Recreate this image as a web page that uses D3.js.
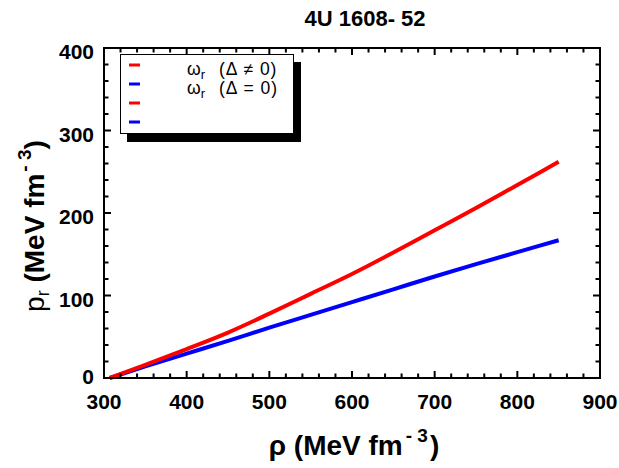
<!DOCTYPE html>
<html>
<head>
<meta charset="utf-8">
<script src="https://cdn.jsdelivr.net/npm/d3@7"></script>
<style>
  body { margin: 0; background: #fff; }
  text { font-family: "Liberation Sans", Arial, sans-serif; fill: #000; }
</style>
</head>
<body>
<div id="chart"></div>
<script>
        // Data
        const rho = [307, 350, 400, 450, 500, 550, 600, 650, 700, 750, 800, 850];
        const prDelta = [0, 16, 35, 55, 78, 102, 126, 152, 179, 206, 234, 262];
        const prNoDelta = [0, 14, 29.5, 45, 61, 76.5, 92, 107.5, 123, 138, 152.5, 167];
        const xTicks = [300, 400, 500, 600, 700, 800, 900];
        const yTicks = [0, 100, 200, 300, 400];
        const legendLabels = ["\u03c9", "\u03c9", "", ""];
        const legendSubs = ["(\u0394 \u2260 0)", "(\u0394 = 0)", "", ""];
        const legendColors = ["#ff0000", "#0000ff", "#ff0000", "#0000ff"];

        const width = 619;
        const height = 468;
        const margin = { left: 104, right: 19, top: 48, bottom: 90 };

        const svg = d3.select("#chart")
            .append("svg")
            .attr("width", width)
            .attr("height", height);

        const x = d3.scaleLinear().domain([300, 900]).range([margin.left, width - margin.right]);
        const y = d3.scaleLinear().domain([0, 400]).range([height - margin.bottom, margin.top]);

        // Curves
        const line = d3.line()
            .x(d => x(d[0]))
            .y(d => y(d[1]))
            .curve(d3.curveMonotoneX);

        svg.append("path")
            .datum(rho.map((r, i) => [r, prNoDelta[i]]))
            .attr("d", line)
            .attr("fill", "none")
            .attr("stroke", "#0000ff")
            .attr("stroke-width", 4);

        svg.append("path")
            .datum(rho.map((r, i) => [r, prDelta[i]]))
            .attr("d", line)
            .attr("fill", "none")
            .attr("stroke", "#ff0000")
            .attr("stroke-width", 4);

        // Frame
        svg.append("rect")
            .attr("x", x(300)).attr("y", y(400))
            .attr("width", x(900) - x(300)).attr("height", y(0) - y(400))
            .attr("fill", "none").attr("stroke", "#000").attr("stroke-width", 2);

        // Ticks: inward on all four sides, minor every 20, as one path
        const xMinor = d3.range(300, 901, 20);
        const yMinor = d3.range(0, 401, 20);
        const tickLen = v => (v % 100 === 0 ? 7 : 4.5);
        const tp = d3.path();
        xMinor.forEach(v => {
            tp.moveTo(x(v), y(0)); tp.lineTo(x(v), y(0) - tickLen(v));
            tp.moveTo(x(v), y(400)); tp.lineTo(x(v), y(400) + tickLen(v));
        });
        yMinor.forEach(v => {
            tp.moveTo(x(300), y(v)); tp.lineTo(x(300) + tickLen(v), y(v));
            tp.moveTo(x(900), y(v)); tp.lineTo(x(900) - tickLen(v), y(v));
        });
        svg.append("path")
            .attr("d", tp.toString())
            .attr("fill", "none")
            .attr("stroke", "#000")
            .attr("stroke-width", 2);

        // Tick labels
        svg.append("g").selectAll("text").data(xTicks).enter().append("text")
            .attr("x", d => x(d)).attr("y", y(0) + 31)
            .attr("text-anchor", "middle")
            .attr("font-size", 21).attr("font-weight", "bold")
            .text(d => d);

        svg.append("g").selectAll("text").data(yTicks).enter().append("text")
            .attr("x", x(300) - 10).attr("y", d => y(d) + (d === 0 ? 6 : 11))
            .attr("text-anchor", "end")
            .attr("font-size", 21).attr("font-weight", "bold")
            .text(d => d);

        // Title
        svg.append("text")
            .attr("x", 365).attr("y", 26)
            .attr("text-anchor", "middle")
            .attr("font-size", 22).attr("font-weight", "bold")
            .text("4U 1608- 52");

        // X label
        const xl = svg.append("text")
            .attr("x", 354).attr("y", 455)
            .attr("text-anchor", "middle")
            .attr("font-size", 28).attr("font-weight", "bold");
        xl.append("tspan").text("\u03c1 (MeV fm");
        xl.append("tspan").attr("dy", -13).attr("dx", 3).attr("font-size", 19).text("- 3");
        xl.append("tspan").attr("dy", 13).attr("dx", 2).text(")");

        // Y label
        const yl = svg.append("text")
            .attr("transform", "translate(44,226) rotate(-90)")
            .attr("text-anchor", "middle")
            .attr("font-size", 28);
        yl.append("tspan").text("p");
        yl.append("tspan").attr("dy", 5).attr("font-size", 18).text("r");
        yl.append("tspan").attr("dy", -5).attr("font-weight", "bold").text(" (MeV fm");
        yl.append("tspan").attr("dy", -13).attr("dx", 2).attr("font-size", 19).attr("font-weight", "bold").text("- 3");
        yl.append("tspan").attr("dy", 13).attr("font-weight", "bold").text(")");

        // Legend with drop shadow
        const lg = svg.append("g");
        lg.append("rect").attr("x", 127).attr("y", 62).attr("width", 174).attr("height", 80).attr("fill", "#000");
        lg.append("rect").attr("x", 120.5).attr("y", 54.5).attr("width", 173).attr("height", 79)
            .attr("fill", "#fff").attr("stroke", "#000").attr("stroke-width", 1);

        legendColors.forEach((c, i) => {
            const ly = 65 + i * 19;
            lg.append("line")
                .attr("x1", 129).attr("x2", 140).attr("y1", ly).attr("y2", ly)
                .attr("stroke", c).attr("stroke-width", 3);
            if (legendLabels[i]) {
                const t = lg.append("text").attr("x", 187).attr("y", ly + 10).attr("font-size", 17.5);
                t.append("tspan").text(legendLabels[i]);
                t.append("tspan").attr("dy", 4).attr("font-size", 13).text("r");
                t.append("tspan").attr("dy", -4).attr("x", 219).attr("letter-spacing", 1).text(legendSubs[i]);
            }
        });
</script>
</body>
</html>
